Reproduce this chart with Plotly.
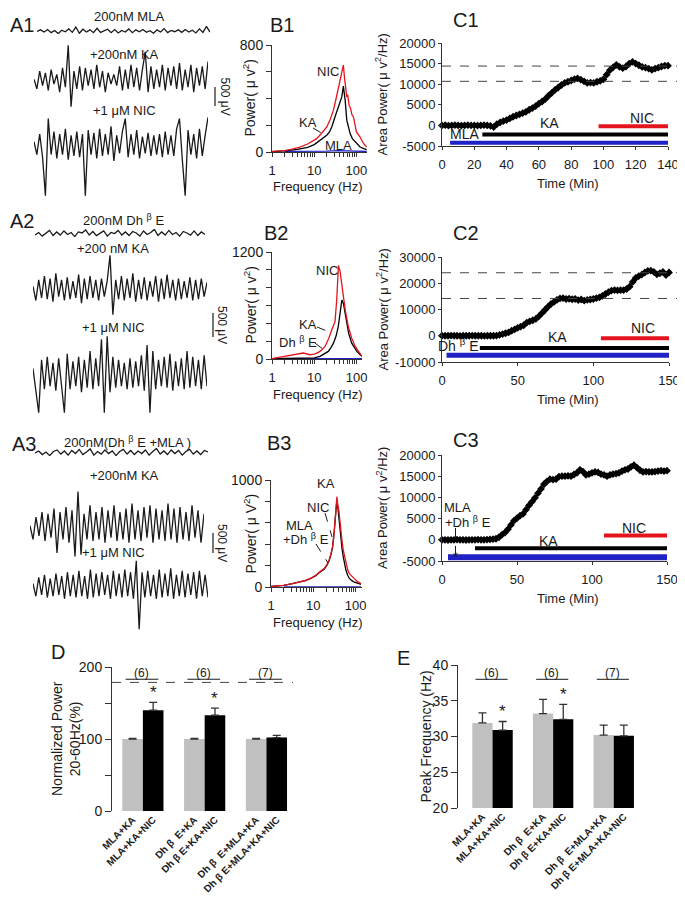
import plotly.graph_objects as go

W, H = 685, 900          # page size of the reference
OFF = 8                  # default body margin of the html page
WF, HF = W - OFF, H - OFF
FONT = "Liberation Sans, Arial, sans-serif"
INK = "#1a1a1a"
RED = "#e4141c"
BLUE = "#1f22c4"
GRAY = "#c0c0c0"

# ---------------- A: example field potentials (uV) ----------------
a1_mla = [0, 25, -10, 30, -20, 15, -35, 20, -5, 40, -15, 70, -30, 35, -10, 25, -20, 50, -15, 10,
          35, -20, 30, -25, 15, -10, 40, -20, 25, -5, 30, -15, 10, -30, 25, -10, 45, -20, 15, -5,
          25, -15, 30, -10, 20, -25, 40, -15, 80, -10]
a1_ka = [50, -250, 300, -150, 250, -300, 350, -100, 200, -350, 400, -200, 1100, -800,
         300, -250, 450, -300, 400, -150, 350, -250, 500, -200, 300, -350, 250, -100, 200, -150,
         450, -300, 350, -250, 500, -200, 400, -300, 350, 900, -350, 450, -250, 350, -200, 500,
         -300, 400, -150, 450, -250, 550, -300, 350, -200, 500, -350, 400, -150, 450, -250, 600]
a1_nic = [200, -300, 500, -400, -1900, 1100, -300, 600, -450, 500, -300, 700, -500, 450, -350,
          600, -400, 500, -1900, 650, -300, 550, -450, 700, -350, 500, -300, 800, -550, 450, -250,
          600, 1100, -400, 500, -300, 650, -450, 400, -250, 550, -350, 450, -300, 500, -400, 600,
          -300, 450, -350, 700, 1100, -500, -1900, 650, -300, 500, -450, 700, -350, 450, 1150]
a2_dhbe = [-10, 15, -20, 10, 35, -15, 20, -10, 30, -5, 15, -25, 20, 10, 40, -10, 25, -15, 10, 30,
           -20, 15, 5, 35, -10, 20, -15, 25, 10, -20, 30, -5, 15, 45, -15, 20, -10, 35, -5, 15,
           -20, 25, 10, -10, 30, -15, 20, -5]
a2_ka = [200, -350, 450, -250, 600, -300, 500, -400, 700, -200, 450, -350, 550, -300, 400, -250,
         650, -450, 500, -300, 600, -250, 450, -350, 500, -200, 400, 1400, -900, 450, -300, 600,
         -350, 500, -250, 700, -400, 450, -300, 550, -350, 400, -200, 600, -400, 500, -300, 650,
         -250, 450, -350, 500, -300, 400, -250, 550, -350, 450, -300, 500, -200, 350]
a2_nic = [300, -500, -1200, 600, -400, 700, -300, 500, -450, 650, -350, -1200, 800, -400, 550,
          -300, 700, -500, 600, -350, 900, -400, 650, -300, 1300, -1200, 1400, -500, 700, -350,
          600, -300, 500, -400, 650, -350, 550, -300, 750, -450, 1100, -1200, 900, -400, 600,
          -300, 700, -350, 800, -450, 550, -300, 650, -400, 900, -350, 700, -300, 600, -400, 750, -300]
a3_dhbe_mla = [0, 20, -15, 10, -25, 15, 30, -10, 20, -20, 25, -5, 35, -15, 10, 40, -20, 15, -10, 30,
               -5, 20, -25, 15, 35, -10, 25, -15, 20, -5, 30, -20, 15, 45, -10, 20, -15, 30, -5, 25,
               -20, 15, 35, -10, 20, -15, 25, 10]
a3_ka = [100, -300, 350, -200, 500, -350, 450, -250, 600, -700, 500, -300, 650, -400, 550, -800,
         1100, -750, 450, -300, 700, -350, 500, -300, 650, -400, 550, -250, 700, -350, 500, -300,
         600, -400, 750, -300, 550, -350, 650, -250, 700, -400, 600, -300, 550, -350, 750, -300,
         600, -400, 650, -300, 500, -350, 700, -250, 550, -400, 450]
a3_nic = [200, -300, 450, -250, 550, -350, 400, -300, 600, -250, 500, -400, 650, -300, 550, -350,
          700, -300, 500, -400, 750, -350, 600, -300, 650, -250, 550, -400, 700, -300, 600, -350,
          750, -300, 650, -400, 1100, -1600, 650, -350, 700, -300, 550, -400, 750, -350, 600, -300,
          800, -400, 550, -300, 700, -350, 600, -250, 650, -400, 700, -300, 550, -350]

# ---------------- B: power spectra ----------------
b1_nic_f = [1, 2, 3, 4.6, 7, 11.4, 15, 19.8, 24, 28.5, 33, 37.4, 43, 49, 52, 55, 59, 62, 67, 72, 78, 85, 92, 100, 122, 150, 175]
b1_nic_p = [5, 10, 22, 37, 60, 100, 140, 187, 245, 313, 400, 487, 570, 650, 560, 480, 412, 430, 350, 330, 280, 262, 200, 150, 112, 60, 37]
b1_ka_f = [1, 2, 4, 7, 10, 13.7, 17, 19.8, 23, 26, 31, 37, 42, 45, 49, 54, 59, 65, 71, 80, 93, 105, 122, 150, 175]
b1_ka_p = [3, 8, 20, 35, 55, 88, 110, 125, 150, 187, 262, 337, 380, 412, 492, 388, 238, 180, 138, 100, 75, 55, 37, 25, 18]
b1_mla_f = [2, 5, 10, 20, 35, 50, 80, 120, 175]
b1_mla_p = [5, 4, 5, 6, 10, 8, 6, 5, 4]

b2_nic_f = [1, 1.9, 3.8, 5.5, 7.9, 10, 12.5, 15, 18, 22, 26, 31, 34, 37.4, 41, 44, 47, 54, 64, 77, 93, 108, 122, 135]
b2_nic_p = [5, 30, 59, 67, 48, 55, 74, 100, 141, 230, 327, 420, 661, 1051, 977, 850, 736, 550, 364, 234, 141, 90, 59, 30]
b2_ka_f = [1, 5, 10, 13.7, 17, 21.5, 25, 28.5, 33, 37, 41, 45, 49, 54, 65, 77, 90, 102, 122, 135]
b2_ka_p = [3, 5, 12, 30, 55, 85, 130, 178, 260, 364, 520, 661, 624, 494, 290, 178, 120, 85, 48, 30]
b2_dhbe_f = [2, 5, 10, 20, 40, 80, 135]
b2_dhbe_p = [3, 3, 4, 5, 6, 4, 3]

b3_f = [1, 2, 3.2, 4.5, 6.6, 9, 11.4, 14, 18, 21, 23.6, 26, 28.5, 31, 34, 36, 38, 40, 43, 45, 48, 51, 55, 59, 65, 71, 80, 93, 110, 134]
b3_nic_p = [5, 15, 31, 45, 62, 85, 109, 140, 172, 210, 250, 310, 375, 500, 688, 844, 760, 719, 600, 500, 420, 344, 280, 219, 160, 125, 100, 78, 50, 31]
b3_ka_p = [5, 15, 31, 45, 60, 82, 105, 135, 165, 205, 245, 300, 370, 510, 700, 812, 740, 640, 520, 438, 350, 281, 210, 156, 110, 80, 62, 45, 37, 25]
b3_ctrl_f = [2, 10, 30, 60, 134]
b3_ctrl_p = [2, 3, 4, 3, 2]

# ---------------- C: area power time course ----------------
c1_time = [0, 2, 4, 6, 8, 10, 12, 14, 16, 18, 20, 22, 24, 26, 28, 30, 32, 34, 36, 38, 40, 42, 44, 46,
           48, 50, 52, 54, 56, 58, 60, 62, 64, 66, 68, 70, 72, 74, 76, 78, 80, 82, 84, 86, 88, 90, 92,
           94, 96, 98, 100, 102, 104, 106, 108, 110, 112, 114, 116, 118, 120, 122, 124, 126, 128, 130,
           132, 134, 136, 138, 140]
c1_power = [0, 50, -50, 0, 50, 0, -50, 0, 50, 0, 0, -50, 0, 50, 0, -100, -400, 300, 700, 1050, 1300,
            1700, 2100, 2400, 2700, 3000, 3300, 3800, 4200, 4700, 5300, 5800, 6400, 7200, 7900, 8600,
            9200, 9800, 10300, 10600, 10900, 11200, 11400, 11100, 10700, 10300, 10400, 10300, 10600,
            10800, 11200, 12300, 13400, 14100, 14700, 14200, 13900, 14300, 15000, 15400, 15000, 14600,
            14200, 14000, 13800, 13500, 13800, 14000, 14300, 14500, 14500]
c1_ref = [14400, 10700]
c1_bar_start = [5, 25, 97]
c1_bar_end = [140, 140, 140]
c1_bar_level = [-4200, -2200, -200]

c2_time = [0, 2, 4, 6, 8, 10, 12, 14, 16, 18, 20, 22, 24, 26, 28, 30, 32, 34, 36, 38, 40, 42, 44, 46,
           48, 50, 52, 54, 56, 58, 60, 62, 64, 66, 68, 70, 72, 74, 76, 78, 80, 82, 84, 86, 88, 90, 92,
           94, 96, 98, 100, 102, 104, 106, 108, 110, 112, 114, 116, 118, 120, 122, 124, 126, 128, 130,
           132, 134, 136, 138, 140, 142, 144, 146, 148, 150]
c2_power = [0, 0, 0, 50, 0, 0, -50, 0, 0, 0, 50, 0, 0, 0, -50, 0, 0, 0, 50, 300, 650, 950, 1250, 1900,
            2400, 3000, 3500, 4000, 5000, 5500, 5900, 6400, 7400, 8600, 9800, 11000, 12100, 12900,
            13700, 14200, 14300, 14000, 14100, 13900, 14000, 13600, 13800, 13400, 13700, 13800, 14000,
            14300, 14600, 15200, 15900, 16600, 17200, 17400, 17300, 17400, 17400, 17800, 18700, 20500,
            22000, 22700, 23300, 24100, 24700, 24800, 24300, 23400, 23800, 24300, 23100, 24100]
c2_ref = [24000, 14200]
c2_bar_start = [3, 25, 105]
c2_bar_end = [150, 150, 150]
c2_bar_level = [-7400, -4700, -1000]

c3_time = c2_time
c3_power = [0, 0, -50, 0, 0, 50, 0, 0, -50, 0, 0, 0, 50, 0, 0, 50, 100, 150, 250, 600, 1200, 1700,
            2500, 3500, 4500, 5100, 5700, 6100, 7100, 8100, 9000, 9900, 11000, 12000, 13100, 13800,
            14300, 14200, 14300, 14900, 15000, 15000, 15100, 15000, 15400, 15800, 16500, 16100, 15300,
            15500, 15800, 16000, 15900, 15500, 15300, 15000, 15300, 15500, 15600, 15800, 16200, 16500,
            16700, 17200, 17600, 17000, 16400, 16000, 16100, 16000, 16000, 16100, 16200, 16300, 16200, 16300]
c3_bar_start = [4, 22, 108]
c3_bar_end = [150, 150, 150]
c3_bar_level = [-4100, -2000, 1000]
bar_colors = [BLUE, "black", RED]

# ---------------- D / E: summary ----------------
bar_labels = ["MLA+KA", "MLA+KA+NIC", "Dh β  E+KA", "Dh β E+KA+NIC", "Dh β  E+MLA+KA", "Dh β E+MLA+KA+NIC"]
n_cells = ["(6)", "(6)", "(7)"]
d_ctrl = [100, 100, 100]
d_ctrl_err = [1, 1, 1]
d_nic = [140, 133, 102]
d_nic_err = [11, 10, 3]
d_sig = [True, True, False]
e_ctrl = [31.9, 33.2, 30.2]
e_ctrl_err = [1.4, 2.0, 1.4]
e_nic = [30.9, 32.4, 30.1]
e_nic_err = [1.2, 2.1, 1.5]
e_sig = [True, True, False]

fig = go.Figure()
layout = {}
ann = []
shapes = []
ids = []


def px(x):
    return (x - OFF) / WF


def py(y):
    return 1 - (y - OFF) / HF


def axes(x0, x1, ytop, ybot, xkw, ykw):
    k = len(ids) + 1
    s = "" if k == 1 else str(k)
    layout["xaxis" + s] = dict(domain=[px(x0), px(x1)], anchor="y" + s, fixedrange=True, automargin=False, **xkw)
    layout["yaxis" + s] = dict(domain=[py(ybot), py(ytop)], anchor="x" + s, fixedrange=True, automargin=False, **ykw)
    ids.append(s)
    return "x" + s, "y" + s


def note(text, x, y, size=13, xanchor="center", yanchor="middle", angle=0, xref="paper", yref="paper", **kw):
    if xref == "paper":
        x = px(x)
    if yref == "paper":
        y = py(y)
    ann.append(dict(text=text, x=x, y=y, xref=xref, yref=yref, showarrow=False, xanchor=xanchor,
                    yanchor=yanchor, textangle=angle, font=dict(family=FONT, size=size, color=INK), **kw))


def pline(x0, y0, x1, y1, width=1, dash="solid", color=INK):
    shapes.append(dict(type="line", xref="paper", yref="paper", x0=px(x0), x1=px(x1),
                       y0=py(y0), y1=py(y1), line=dict(color=color, width=width, dash=dash)))


hidden = dict(visible=False)
line_ax = dict(showline=True, linecolor="#333", linewidth=1, showgrid=False, zeroline=False,
               ticks="outside", tickcolor="#333", tickfont=dict(family=FONT, size=13, color=INK))

# ---- A panels ----
a_traces = [
    (a1_mla, 37, 210, 26, 34), (a1_ka, 34, 208, 42, 110), (a1_nic, 34, 208, 113, 200),
    (a2_dhbe, 35, 205, 229, 237), (a2_ka, 33, 207, 252, 318), (a2_nic, 33, 207, 332, 417),
    (a3_dhbe_mla, 35, 208, 448, 456), (a3_ka, 30, 204, 488, 560), (a3_nic, 33, 208, 557, 633),
]
for vals, x0, x1, yt, yb in a_traces:
    xa, ya = axes(x0, x1, yt, yb, hidden, hidden)
    fig.add_trace(go.Scatter(y=vals, mode="lines", line=dict(color=INK, width=1.3),
                             xaxis=xa, yaxis=ya, hoverinfo="skip"))

note("A1", 8, 25, size=20, xanchor="left")
note("200nM MLA", 129, 16)
note("+200nM KA", 125, 55)
note("+1 μM NIC", 125, 110)
note("A2", 8, 221, size=20, xanchor="left")
note("200nM Dh <sup>β</sup> E", 123, 220)
note("+200 nM KA", 113, 248)
note("+1 μM NIC", 113, 328)
note("A3", 10, 444, size=20, xanchor="left")
note("200nM(Dh <sup>β</sup> E +MLA )", 127, 442)
note("+200nM KA", 125, 475)
note("+1 μM NIC", 113, 552)
for xb, y0, y1 in [(215, 87, 106), (213, 313, 337), (213, 533, 553)]:
    pline(xb, y0, xb, y1, width=1.2)
    note("500 μV", xb + 9, (y0 + y1) / 2, size=12, angle=90)

# ---- B panels ----
dec_vals = [1, 2, 3, 4, 5, 6, 7, 8, 9, 10, 20, 30, 40, 50, 60, 70, 80, 90, 100]
dec_text = [str(v) if v in (1, 10, 100) else "" for v in dec_vals]
b_specs = [
    (272, 367, 45, 152, 2.25, 800, [(b1_nic_f, b1_nic_p, RED), (b1_ka_f, b1_ka_p, "black"), (b1_mla_f, b1_mla_p, BLUE)],
     "Power( μ v<sup>2</sup>)", "B1", 268, 25),
    (272, 362, 252, 359, 2.13, 1200, [(b2_nic_f, b2_nic_p, RED), (b2_ka_f, b2_ka_p, "black"), (b2_dhbe_f, b2_dhbe_p, BLUE)],
     "Power( μ v<sup>2</sup>)", "B2", 262, 233),
    (271, 362, 480, 587, 2.15, 1000, [(b3_f, b3_nic_p, RED), (b3_f, b3_ka_p, "black"), (b3_ctrl_f, b3_ctrl_p, BLUE)],
     "Power( μ V<sup>2</sup>)", "B3", 265, 443),
]
for x0, x1, yt, yb, xmax, ymax, curves, ytitle, lab, lx, ly in b_specs:
    yt_vals = list(range(0, ymax + 1, 200))
    yt_text = [str(v) if v in (0, ymax) else "" for v in yt_vals]
    xa, ya = axes(x0, x1, yt, yb,
                  dict(line_ax, type="log", range=[0, xmax], tickvals=dec_vals, ticktext=dec_text,
                       ticklen=4, ticklabelstandoff=2, tickfont=dict(family=FONT, size=13, color=INK)),
                  dict(line_ax, range=[0, ymax], tickvals=yt_vals, ticktext=yt_text, ticklen=5,
                       tickfont=dict(family=FONT, size=14, color=INK)))
    for f, p, c in curves[::-1]:
        fig.add_trace(go.Scatter(x=f, y=p, mode="lines", line=dict(color=c, width=1.3),
                                 xaxis=xa, yaxis=ya, hoverinfo="skip"))
    note(ytitle, 250, (yt + yb) / 2, size=14, angle=-90)
    note("Frequency (Hz)", 318, yb + 35, size=13)
    note(lab, lx, ly, size=20, xanchor="left")

note("NIC", 328, 72)
note("KA", 308, 123)
pline(313, 128, 325, 135, dash="dash")
note("MLA", 338, 145)
note("NIC", 327, 270)
note("KA", 308, 324)
pline(317, 327, 332, 333, dash="dash")
note("Dh <sup>β</sup> E", 298, 342)
pline(315, 343, 328, 353, dash="dash")
note("KA", 326, 483)
note("NIC", 318, 507)
pline(325, 513, 332, 537, dash="dash")
note("MLA", 299, 525)
note("+Dh <sup>β</sup> E", 306, 539)
pline(316, 544, 328, 563, dash="dash")

# ---- C panels ----
c_specs = [
    (442, 668, 43, 146, 140, list(range(0, 141, 20)), -5000, 20000, 5000, c1_time, c1_power,
     c1_bar_start, c1_bar_end, c1_bar_level, [4, 4, 4], c1_ref, "C1", 20),
    (442, 669, 257, 362, 150, [0, 50, 100, 150], -10000, 30000, 10000, c2_time, c2_power,
     c2_bar_start, c2_bar_end, c2_bar_level, [5, 4, 4], c2_ref, "C2", 233),
    (442, 667, 455, 561, 150, [0, 50, 100, 150], -5000, 20000, 5000, c3_time, c3_power,
     c3_bar_start, c3_bar_end, c3_bar_level, [6, 4, 4], [], "C3", 440),
]
c_axes = []
for (x0, x1, yt, yb, xmax, xt, ymin, ymax, ystep, t, pw, bs, be, bl, bw, refs, lab, ly) in c_specs:
    yv = list(range(ymin, ymax + 1, ystep))
    xa, ya = axes(x0, x1, yt, yb,
                  dict(line_ax, range=[0, xmax], tickvals=xt, ticktext=[str(v) for v in xt],
                       ticklen=3, ticklabelstandoff=3),
                  dict(line_ax, range=[ymin, ymax], tickvals=yv, ticktext=[str(v) for v in yv], ticklen=3))
    c_axes.append((xa, ya))
    for i in range(3):
        fig.add_trace(go.Scatter(x=[bs[i], be[i]], y=[bl[i], bl[i]], mode="lines",
                                 line=dict(color=bar_colors[i], width=bw[i]), xaxis=xa, yaxis=ya,
                                 hoverinfo="skip"))
    fig.add_trace(go.Scatter(x=t, y=pw, mode="lines+markers", cliponaxis=False,
                             line=dict(color="black", width=1),
                             marker=dict(symbol="diamond", size=6, color="black"),
                             xaxis=xa, yaxis=ya, hoverinfo="skip"))
    for r in refs:
        shapes.append(dict(type="line", xref="paper", yref=ya, x0=px(x0), x1=px(x1 + 15), y0=r, y1=r,
                           line=dict(color="#444", width=1, dash="dash")))
    note("Area Power( μ v<sup>2</sup>/Hz)", 382, (yt + yb) / 2, size=13, angle=-90)
    note("Time (Min)", 568, yb + 37, size=13)
    note(lab, 451, ly, size=20, xanchor="left")

(cx1, cy1), (cx2, cy2), (cx3, cy3) = c_axes
note("MLA", 14, -2200, size=14, xref=cx1, yref=cy1)
note("KA", 66.5, 700, size=14, xref=cx1, yref=cy1)
note("NIC", 124, 1900, size=14, xref=cx1, yref=cy1)
note("Dh <sup>β</sup> E", 11, -3700, size=14, xref=cx2, yref=cy2)
note("KA", 76, -600, size=14, xref=cx2, yref=cy2)
note("NIC", 133, 2800, size=14, xref=cx2, yref=cy2)
note("MLA", 10.5, 7600, size=13, xref=cx3, yref=cy3)
note("+Dh <sup>β</sup> E", 17, 4200, size=13, xref=cx3, yref=cy3)
note("*", 9, -4000, size=13, xref=cx3, yref=cy3)
shapes.append(dict(type="line", xref=cx3, yref=cy3, x0=9, x1=9, y0=2800, y1=-3300,
                   line=dict(color=INK, width=1, dash="dash")))
note("KA", 71, -250, size=14, xref=cx3, yref=cy3)
note("NIC", 128, 2900, size=14, xref=cx3, yref=cy3)


# ---- D / E ----
def summary(x0, x1, yt, yb, xr, yr, ytick_vals, ytick_text, ctrl, ctrl_err, nic, nic_err, sig,
            bracket_y, half, ytitle, title_x, lab, lab_xy):
    tv, tt = [], []
    for i in range(3):
        tv += [i - half, i + half]
        tt += [bar_labels[2 * i], bar_labels[2 * i + 1]]
    xa, ya = axes(x0, x1, yt, yb,
                  dict(range=xr, showline=False, showgrid=False, zeroline=False, ticks="",
                       tickvals=tv, ticktext=tt, tickangle=-45,
                       tickfont=dict(family=FONT, size=10, color=INK, weight="bold")),
                  dict(line_ax, range=yr, tickvals=ytick_vals, ticktext=ytick_text, ticklen=6,
                       tickfont=dict(family=FONT, size=14, color=INK)))
    for vals, err, col in [(ctrl, ctrl_err, GRAY), (nic, nic_err, "black")]:
        fig.add_trace(go.Bar(x=[0, 1, 2], y=vals, marker=dict(color=col, line=dict(width=0)),
                             error_y=dict(type="data", symmetric=False, array=err, arrayminus=[0, 0, 0],
                                          color="#333", thickness=1.3, width=4),
                             xaxis=xa, yaxis=ya, hoverinfo="skip"))
    for i in range(3):
        shapes.append(dict(type="line", xref=xa, yref=ya, x0=i - 0.28, x1=i + 0.25,
                           y0=bracket_y, y1=bracket_y, line=dict(color=INK, width=1)))
        note(n_cells[i], i - 0.02, bracket_y, size=12, yanchor="bottom", xref=xa, yref=ya, yshift=-3)
        if sig[i]:
            note("*", i + half, nic[i] + nic_err[i], size=17, yanchor="bottom", xref=xa, yref=ya, yshift=-2)
    note(ytitle, title_x, (yt + yb) / 2, size=14, angle=-90)
    note(lab, lab_xy[0], lab_xy[1], size=20, xanchor="left")
    return xa, ya


dxa, dya = summary(112, 293, 667, 811, [-0.5, 2.43], [0, 200], [0, 50, 100, 150, 200],
                   ["0", "", "100", "", "200"], d_ctrl, d_ctrl_err, d_nic, d_nic_err, d_sig,
                   183, 1 / 6, "Normalized Power<br>20-60Hz(%)", 66, "D", (49, 652))
shapes.append(dict(type="line", xref=dxa + " domain", yref=dya, x0=0, x1=1, y0=178.6, y1=178.6,
                   line=dict(color="#444", width=1, dash="dash")))
summary(458, 641, 665, 808, [-0.57, 2.45], [20, 40], [20, 25, 30, 35, 40],
        ["20", "25", "30", "35", "40"], e_ctrl, e_ctrl_err, e_nic, e_nic_err, e_sig,
        38, 1 / 6, "Peak Frequency (Hz)", 425, "E", (395, 658))

layout.update(template="none", width=WF, height=HF, margin=dict(l=0, r=0, t=0, b=0), paper_bgcolor="white",
              plot_bgcolor="white", showlegend=False, barmode="group", bargap=1 / 3, bargroupgap=0,
              annotations=ann, shapes=shapes, font=dict(family=FONT, color=INK))
fig.update_layout(**layout)
fig.write_html("out.html")
